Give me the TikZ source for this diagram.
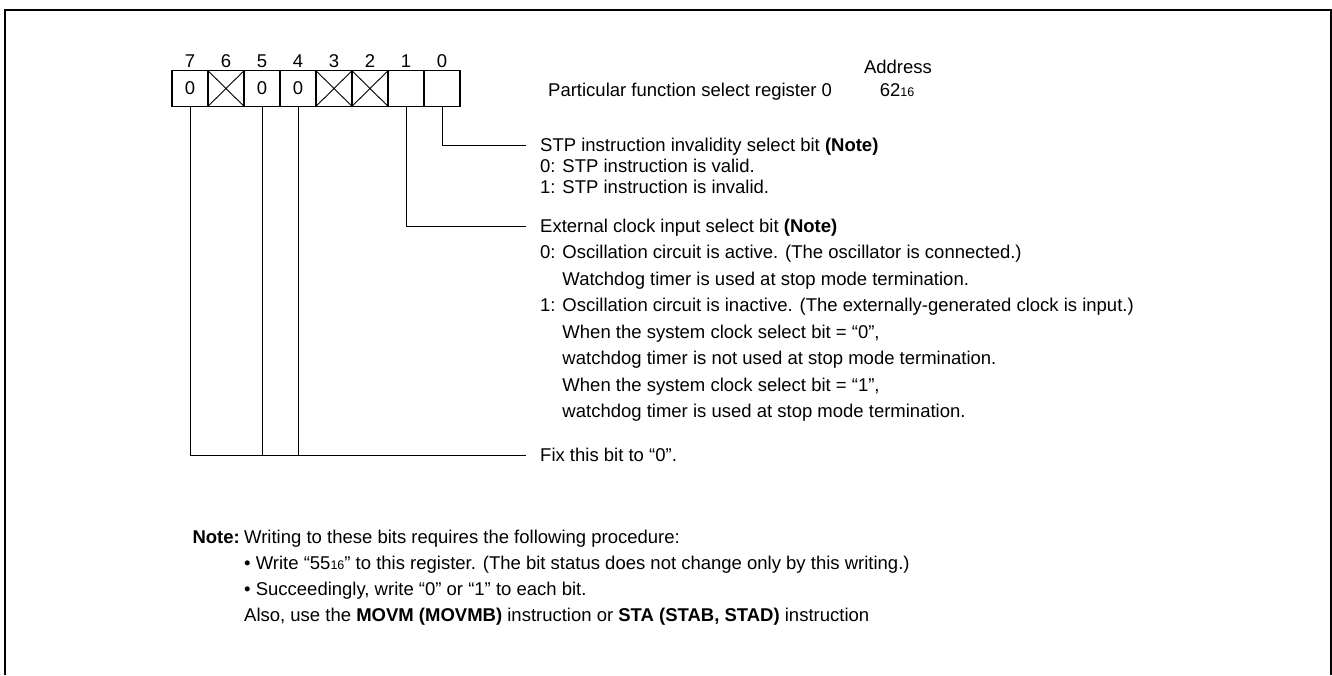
\documentclass[tikz,border=0pt]{standalone}
\usepackage{fontspec}
\setmainfont{Liberation Sans}
\usetikzlibrary{positioning}
\newcommand{\hexsub}[1]{{\fontsize{12.5}{12.5}\selectfont #1}}

\begin{document}
\begin{tikzpicture}[x=1pt,y=-1pt,
  every node/.style={inner sep=0pt,font=\fontsize{18.5}{22}\selectfont},
  cell/.style={draw,line width=1.2pt,minimum width=36pt,minimum height=35.5pt},
  lead/.style={line width=0.9pt},
  desc/.style={anchor=base west}]
  \useasboundingbox (0,0) rectangle (1332,675);
  \draw[line width=2.4pt] (5,675) -- (5,10) -- (1331,10) -- (1331,675);

  % register cells, bit 7 on the left
  \foreach \b/\v [count=\i from 0] in {7/0,6/,5/0,4/0,3/,2/,1/,0/} {
    \node[cell] (b\b) at ({190+36*\i},88.5) {\v};
    \node[anchor=base,yshift=2.3pt] (n\b) at (b\b.north) {\b};
  }
  \foreach \b in {6,3,2}
    \draw[line width=0.9pt] (b\b.north west) -- (b\b.south east)
      (b\b.south west) -- (b\b.north east);

  \node[desc] (reg) at (548,96) {Particular function select register 0};
  \node[anchor=base] (addr) at (898,73) {Address};
  \node[anchor=base] (adval) at (897,96) {62\hexsub{16}};

  % bit 0
  \foreach \t [count=\i from 0] in {{STP instruction invalidity select bit \textbf{(Note)}},
      {0: STP instruction is valid.},{1: STP instruction is invalid.}}
    \node[desc] (stp\i) at (540,{151+21*\i}) {\t};
  \draw[lead] (b0.south) |- ([xshift=-14pt,yshift=6pt]stp0.base west);

  % bit 1
  \foreach \t [count=\i from 0] in {{External clock input select bit \textbf{(Note)}},
      {0: Oscillation circuit is active. (The oscillator is connected.)},
      {\phantom{0: }Watchdog timer is used at stop mode termination.},
      {1: Oscillation circuit is inactive. (The externally-generated clock is input.)},
      {\phantom{1: }When the system clock select bit = “0”,},
      {\phantom{1: }watchdog timer is not used at stop mode termination.},
      {\phantom{1: }When the system clock select bit = “1”,},
      {\phantom{1: }watchdog timer is used at stop mode termination.}}
    \node[desc] (ext\i) at (540,{232+26.5*\i}) {\t};
  \draw[lead] (b1.south) |- ([xshift=-14pt,yshift=6pt]ext0.base west);

  % bits 7, 5, 4
  \node[desc] (fix) at (540,461) {Fix this bit to “0”.};
  \draw[lead] (b7.south) |- ([xshift=-14pt,yshift=6pt]fix.base west);
  \draw[lead] (b5.south) -- ([yshift=6pt]b5.south |- fix.base);
  \draw[lead] (b4.south) -- ([yshift=6pt]b4.south |- fix.base);

  % note
  \node[anchor=base east] (notehd) at (240,543) {\textbf{Note:}};
  \foreach \t [count=\i from 0] in {{Writing to these bits requires the following procedure:},
      {• Write “55\hexsub{16}” to this register. (The bit status does not change only by this writing.)},
      {• Succeedingly, write “0” or “1” to each bit.},
      {Also, use the \textbf{MOVM (MOVMB)} instruction or \textbf{STA (STAB, STAD)} instruction}}
    \node[desc] (note\i) at (244,{543+26*\i}) {\t};
\end{tikzpicture}
\end{document}
